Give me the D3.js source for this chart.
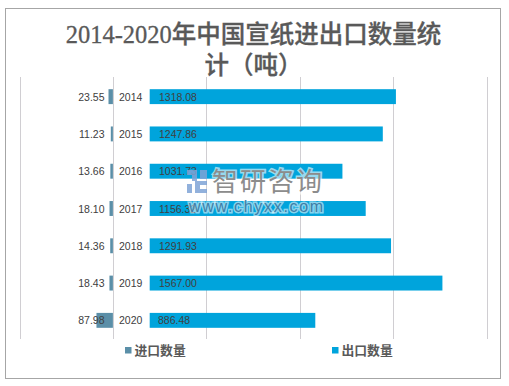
<!DOCTYPE html>
<html>
<head>
<meta charset="utf-8">
<script src="https://cdn.jsdelivr.net/npm/d3@7"></script>
<style>
html, body { margin: 0; padding: 0; background: #fff; }
svg { display: block; }
text { font-family: "Liberation Sans", "Noto Sans CJK SC", sans-serif; }
</style>
</head>
<body>
<div id="svg-holder"></div>
<script>
let years = ['2014', '2015', '2016', '2017', '2018', '2019', '2020']
let imports = [23.55, 11.23, 13.66, 18.10, 14.36, 18.43, 87.98]
let exports = [1318.08, 1247.86, 1031.73, 1156.32, 1291.93, 1567.00, 886.48]
let importLabels = ['23.55', '11.23', '13.66', '18.10', '14.36', '18.43', '87.98']
let exportLabels = ['1318.08', '1247.86', '1031.73', '1156.32', '1291.93', '1567.00', '886.48']
let gridTicks = [-500, 0, 500, 1000, 1500, 2000]
let titleLines = ['2014-2020年中国宣纸进出口数量统', '计（吨）']
let legendNames = ['进口数量', '出口数量']
// blank stack between the two sides of the chart, holds the year labels
let yearGap = 197

let width = 509,
    height = 386

let importColor = '#5b8fa8',
    exportColor = '#00a4dc',
    textColor = '#404040',
    titleColor = '#595959'

let svg = d3.select('#svg-holder').append('svg')
    .attr('width', width)
    .attr('height', height)

let x = d3.scaleLinear()
    .domain([-500, 2000])
    .range([19.5, 486.5])

let y = d3.scaleBand()
    .domain(years)
    .range([78, 339])
    .paddingInner(0.6)
    .paddingOuter(0.3)

// frame
svg.append('rect')
    .attr('x', 5.5)
    .attr('y', 8.5)
    .attr('width', 495)
    .attr('height', 370)
    .attr('fill', '#fff')
    .attr('stroke', '#a6a6a6')
    .attr('stroke-width', 1)

// title
svg.append('g')
    .selectAll('text')
    .data(titleLines)
    .enter()
    .append('text')
    .attr('x', 253.5)
    .attr('y', (d, i) => 43 + i * 31)
    .attr('text-anchor', 'middle')
    .attr('fill', titleColor)
    .attr('stroke', titleColor)
    .attr('stroke-width', 0.3)
    .style('font-family', '"Liberation Serif", "Noto Sans CJK SC", serif')
    .style('font-size', '24.5px')
    .style('font-weight', 500)
    .text(d => d)

// gridlines
svg.append('g')
    .selectAll('line')
    .data(gridTicks)
    .enter()
    .append('line')
    .attr('x1', d => Math.round(x(d)) + 0.5)
    .attr('x2', d => Math.round(x(d)) + 0.5)
    .attr('y1', 77)
    .attr('y2', 339)
    .attr('stroke', '#d0ced2')

// import bars go left of zero
svg.append('g')
    .selectAll('rect')
    .data(imports)
    .enter()
    .append('rect')
    .attr('x', d => x(-d))
    .attr('y', (d, i) => y(years[i]))
    .attr('width', d => x(0) - x(-d))
    .attr('height', y.bandwidth())
    .attr('fill', importColor)

// export bars start after the year gap
svg.append('g')
    .selectAll('rect')
    .data(exports)
    .enter()
    .append('rect')
    .attr('x', x(yearGap))
    .attr('y', (d, i) => y(years[i]))
    .attr('width', d => x(yearGap + d) - x(yearGap))
    .attr('height', y.bandwidth())
    .attr('fill', exportColor)

let mid = d => y(d) + y.bandwidth() / 2 + 4

svg.append('g')
    .selectAll('text')
    .data(importLabels)
    .enter()
    .append('text')
    .attr('x', 104.5)
    .attr('y', (d, i) => mid(years[i]))
    .attr('text-anchor', 'end')
    .attr('fill', textColor)
    .style('font-size', '10.5px')
    .text(d => d)

svg.append('g')
    .selectAll('text')
    .data(years)
    .enter()
    .append('text')
    .attr('x', 119)
    .attr('y', d => mid(d))
    .attr('fill', textColor)
    .style('font-size', '10.5px')
    .text(d => d)

svg.append('g')
    .selectAll('text')
    .data(exportLabels)
    .enter()
    .append('text')
    .attr('x', d => d.length > 6 ? 159 : 158)
    .attr('y', (d, i) => mid(years[i]))
    .attr('fill', textColor)
    .style('font-size', '10.5px')
    .text(d => d)

// legend
let legend = svg.append('g')
    .selectAll('g')
    .data(legendNames)
    .enter()
    .append('g')
    .attr('transform', (d, i) => `translate(${i == 0 ? 125 : 332}, 347)`)

legend.append('rect')
    .attr('width', 6.5)
    .attr('height', 6.5)
    .attr('fill', (d, i) => i == 0 ? importColor : exportColor)

legend.append('text')
    .attr('x', 9.5)
    .attr('y', 8)
    .attr('fill', titleColor)
    .style('font-size', '12.8px')
    .style('font-weight', 700)
    .text(d => d)

// watermark
let mark = svg.append('g')

mark.append('path')
    .attr('d', 'M187 170h10v11h-5v-6h-5z M200 170h7v9h-7z M187 184h5v9h-5z M195 181h12v4h-7v4h7v4h-12z')
    .attr('fill', '#7fa3d6')
    .attr('fill-opacity', 0.85)

mark.append('text')
    .attr('x', 212)
    .attr('y', 191)
    .attr('fill', '#8c8c8c')
    .attr('stroke', '#fff')
    .attr('stroke-opacity', 0.6)
    .attr('stroke-width', 3)
    .attr('paint-order', 'stroke')
    .style('font-size', '26px')
    .style('letter-spacing', '2px')
    .text('智研咨询')

mark.append('text')
    .attr('x', 189)
    .attr('y', 212)
    .attr('fill', '#3f7ea6')
    .attr('stroke', '#fff')
    .attr('stroke-opacity', 0.55)
    .attr('stroke-width', 3)
    .attr('paint-order', 'stroke')
    .style('font-size', '16px')
    .style('letter-spacing', '1.7px')
    .text('www.chyxx.com')
</script>
</body>
</html>
